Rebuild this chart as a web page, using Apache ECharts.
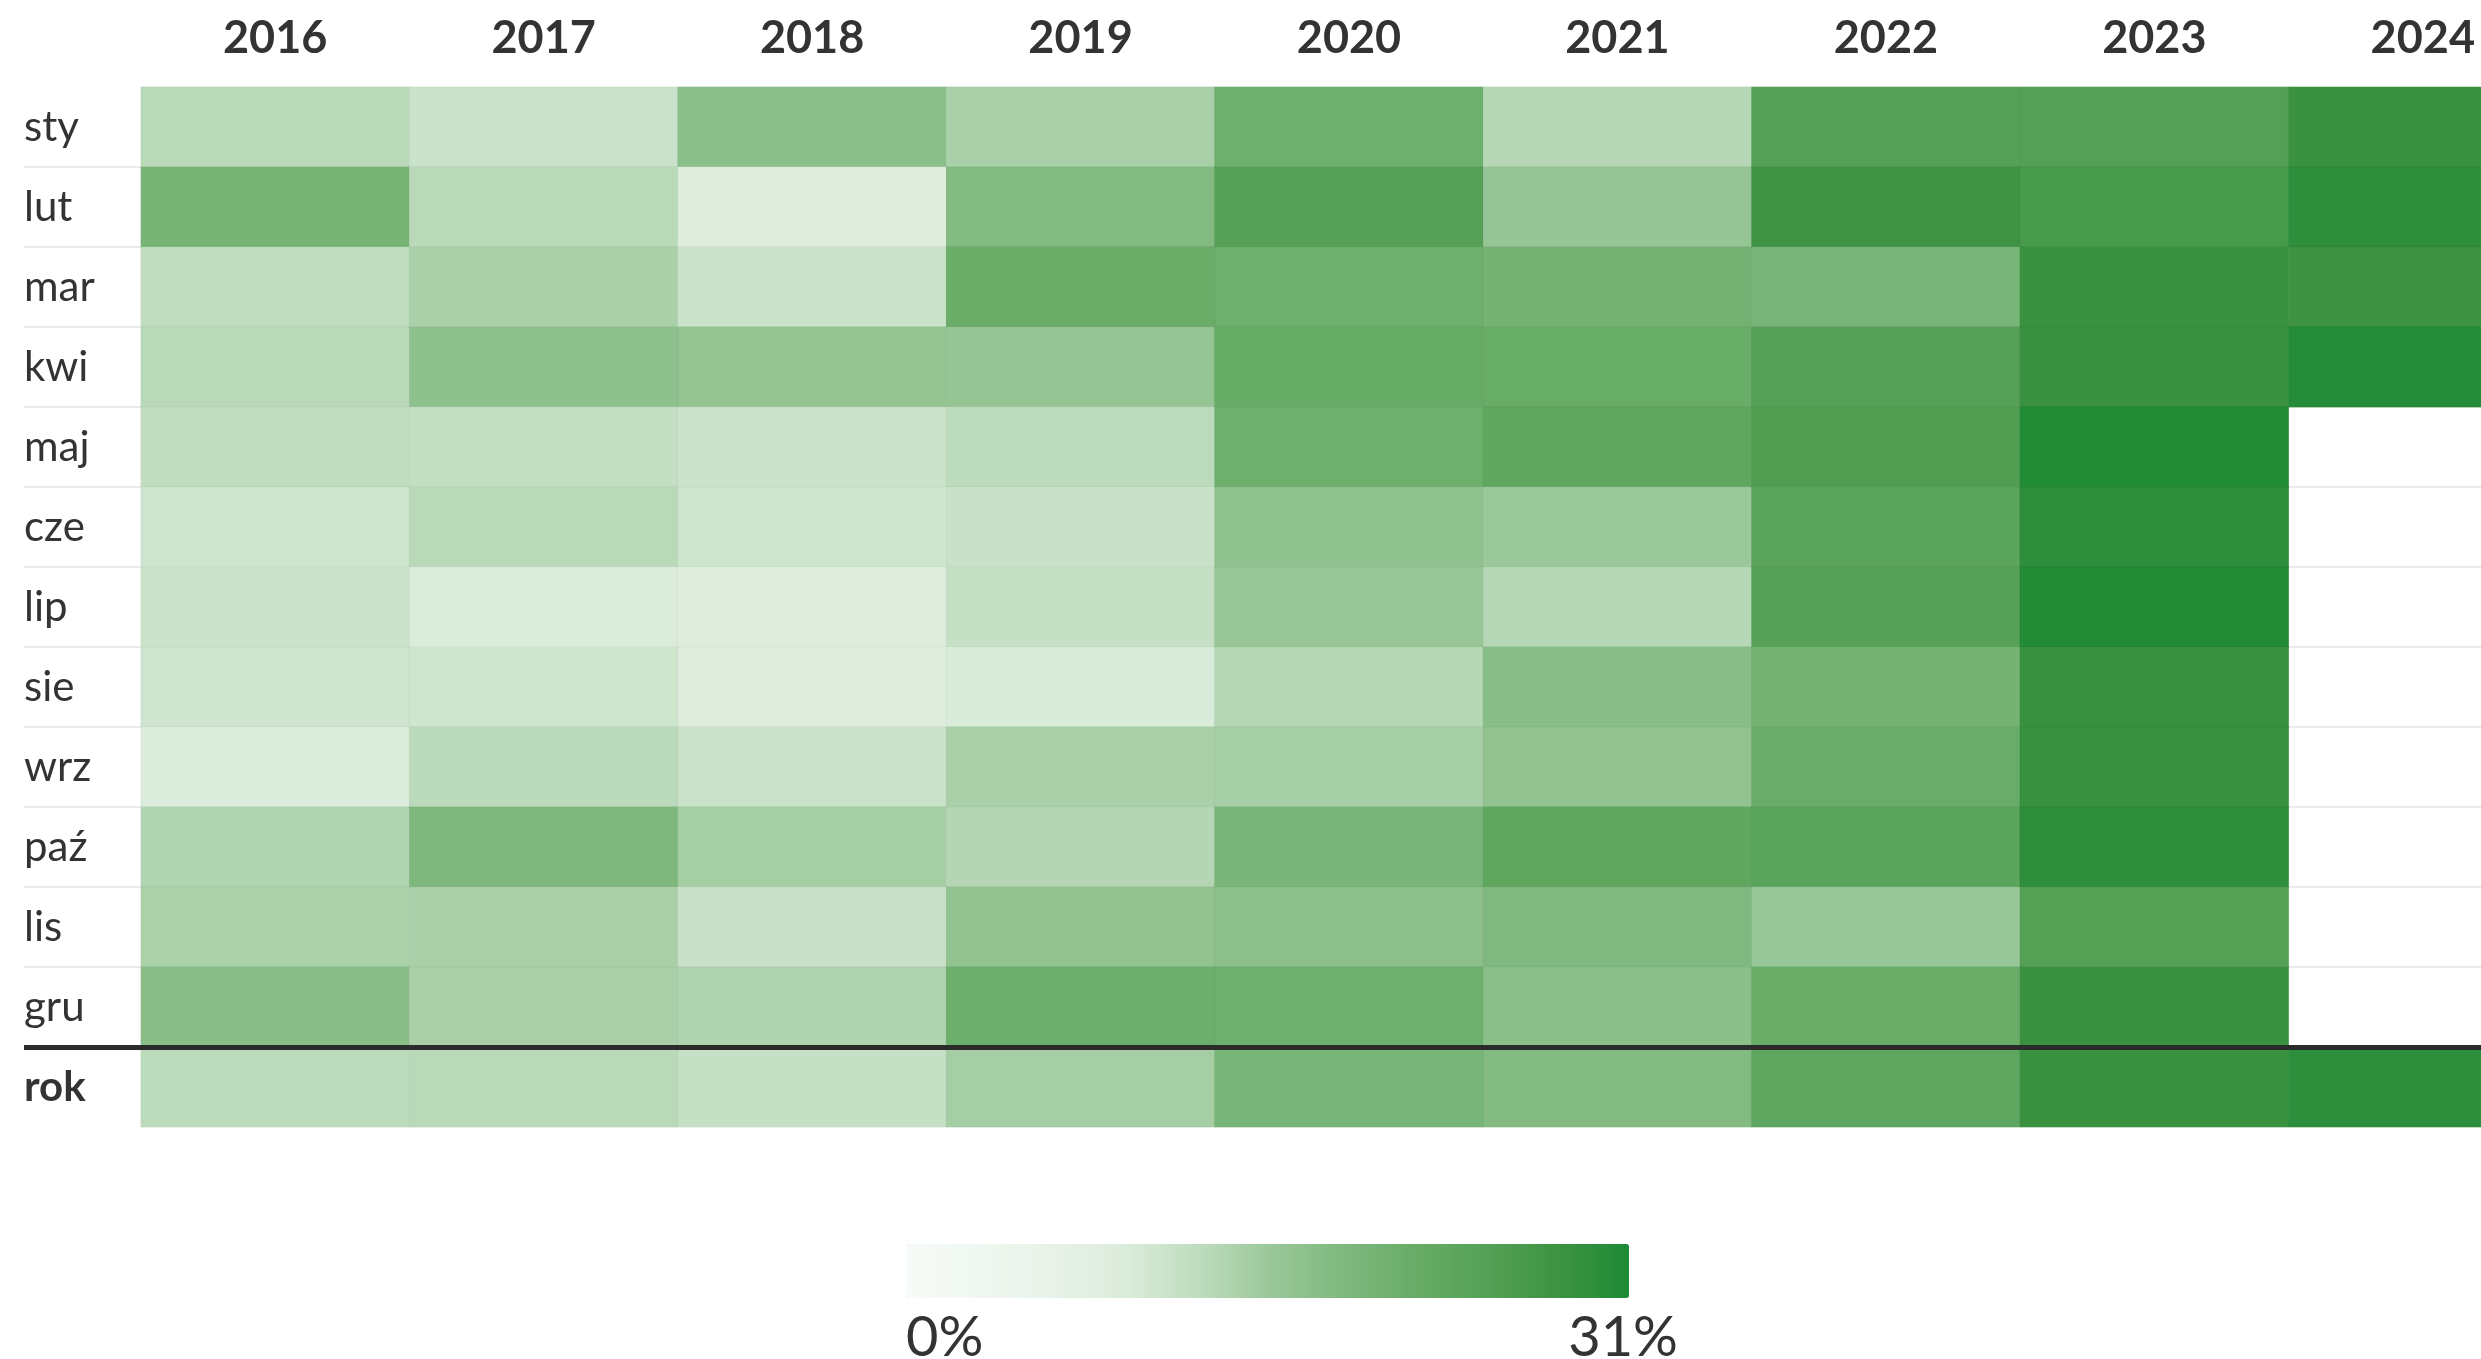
<!DOCTYPE html>
<html>
<head>
<meta charset="utf-8">
<script src="https://cdn.jsdelivr.net/npm/echarts@6/dist/echarts.min.js"></script>
<style>
  html, body { margin: 0; padding: 0; background: #fff; overflow: hidden; }
  #chart { width: 2560px; height: 1359px; }
</style>
</head>
<body>
<div id="chart"></div>
<script>
// categories
const years = ['2016', '2017', '2018', '2019', '2020', '2021', '2022', '2023', '2024'];
const rows = ['sty', 'lut', 'mar', 'kwi', 'maj', 'cze', 'lip', 'sie', 'wrz', 'paź', 'lis', 'gru', 'rok'];

// share in % per month, last entry = whole year ("rok")
const v2016 = [13.0, 19.8, 12.4, 13.0, 12.4, 10.9, 11.4, 10.9, 9.3, 13.6, 14.2, 17.6, 12.7];
const v2017 = [11.4, 13.0, 14.3, 17.0, 12.1, 13.0, 9.3, 10.8, 12.8, 18.9, 14.3, 14.4, 13.0];
const v2018 = [17.3, 8.7, 11.2, 16.4, 11.2, 10.8, 8.9, 8.7, 11.4, 14.6, 11.5, 13.9, 11.8];
const v2019 = [14.3, 18.3, 21.5, 16.1, 12.7, 11.5, 11.8, 9.6, 14.3, 13.4, 16.5, 21.2, 14.6];
const v2020 = [21.0, 24.8, 21.0, 22.0, 21.0, 16.8, 15.9, 13.3, 14.5, 19.5, 17.1, 21.0, 19.6];
const v2021 = [13.3, 16.1, 20.2, 21.8, 23.3, 15.5, 13.3, 17.6, 16.7, 23.3, 18.6, 17.4, 18.4];
const v2022 = [24.8, 27.6, 19.6, 24.8, 25.4, 23.9, 24.8, 20.0, 21.6, 23.9, 15.8, 21.7, 23.2];
const v2023 = [25.0, 26.6, 28.2, 28.2, 30.7, 29.5, 30.7, 28.5, 28.5, 29.5, 25.1, 28.2, 28.2];
const v2024 = [28.2, 29.5, 27.9, 30.4, null, null, null, null, null, null, null, null, 29.5];
const columns = [v2016, v2017, v2018, v2019, v2020, v2021, v2022, v2023, v2024];

// colour scale
const scaleMin = 0;
const scaleMax = 31;
const scaleLabels = ['0%', '31%'];
const scaleColors = ['#f8fbf9', '#f0f7f1', '#e8f2e8', '#dcecdc', '#c0ddc0', '#9bc89a',
                     '#80b97f', '#68ac68', '#56a157', '#3d9342', '#1e8a35'];

const cells = [];
columns.forEach((col, xi) => {
  col.forEach((v, yi) => {
    if (v != null) cells.push([xi, yi, v]);
  });
});

const font = 'Lato, "Noto Sans", sans-serif';
// the last column runs past the right edge of the page, so the canvas is wider than the window
const chart = echarts.init(document.getElementById('chart'));

chart.setOption({
  animation: false,
  textStyle: { fontFamily: font },
  grid: [
    { left: 141, right: 3, top: 87, height: 1040 },
    { left: 24, right: 3, top: 87, height: 1040 }
  ],
  xAxis: [
    {
      type: 'category', data: years, position: 'top', gridIndex: 0,
      axisLine: { show: false }, axisTick: { show: false }, splitLine: { show: false },
      axisLabel: { fontSize: 45, fontWeight: 'bold', color: '#333', margin: 26, fontFamily: font }
    },
    {
      type: 'value', gridIndex: 1, min: 0, max: 1, show: false
    }
  ],
  yAxis: [
    {
      type: 'category', data: rows, inverse: true, gridIndex: 0,
      axisLine: { show: false }, axisTick: { show: false }, splitLine: { show: false },
      axisLabel: {
        fontSize: 42, color: '#333', align: 'left', margin: 117, fontFamily: font,
        formatter: v => v === 'rok' ? '{b|rok}' : v,
        rich: { b: { fontSize: 42, fontWeight: 'bold', color: '#333', fontFamily: font, align: 'left' } }
      }
    },
    {
      type: 'value', gridIndex: 1, min: 0, max: rows.length, interval: 1, inverse: true,
      axisLine: { show: false }, axisTick: { show: false }, axisLabel: { show: false },
      splitLine: { show: true, showMinLine: false, showMaxLine: false, lineStyle: { color: '#ebebeb', width: 2 } }
    }
  ],
  visualMap: {
    type: 'continuous',
    seriesIndex: 1,
    min: scaleMin, max: scaleMax,
    orient: 'horizontal',
    left: 906, top: 1244,
    padding: 0,
    itemWidth: 54, itemHeight: 723,
    calculable: false,
    hoverLink: false,
    inRange: { color: scaleColors }
  },
  graphic: [
    { type: 'text', x: 906, y: 1310, style: { text: scaleLabels[0], fontSize: 56, fill: '#333', fontFamily: font, align: 'left', verticalAlign: 'top' } },
    { type: 'text', x: 1678, y: 1310, style: { text: scaleLabels[1], fontSize: 56, fill: '#333', fontFamily: font, align: 'right', verticalAlign: 'top' } }
  ],
  series: [
    {
      type: 'line', xAxisIndex: 1, yAxisIndex: 1, data: [], silent: true,
      markLine: {
        silent: true, symbol: 'none', z: 10,
        label: { show: false },
        lineStyle: { color: '#2b2b2b', width: 5, type: 'solid' },
        data: [{ yAxis: 12 }]
      }
    },
    {
      type: 'heatmap', xAxisIndex: 0, yAxisIndex: 0, data: cells,
      itemStyle: { borderColor: 'rgba(0,0,0,0.035)', borderWidth: 1 },
      emphasis: { disabled: true }
    }
  ]
});
</script>
</body>
</html>
